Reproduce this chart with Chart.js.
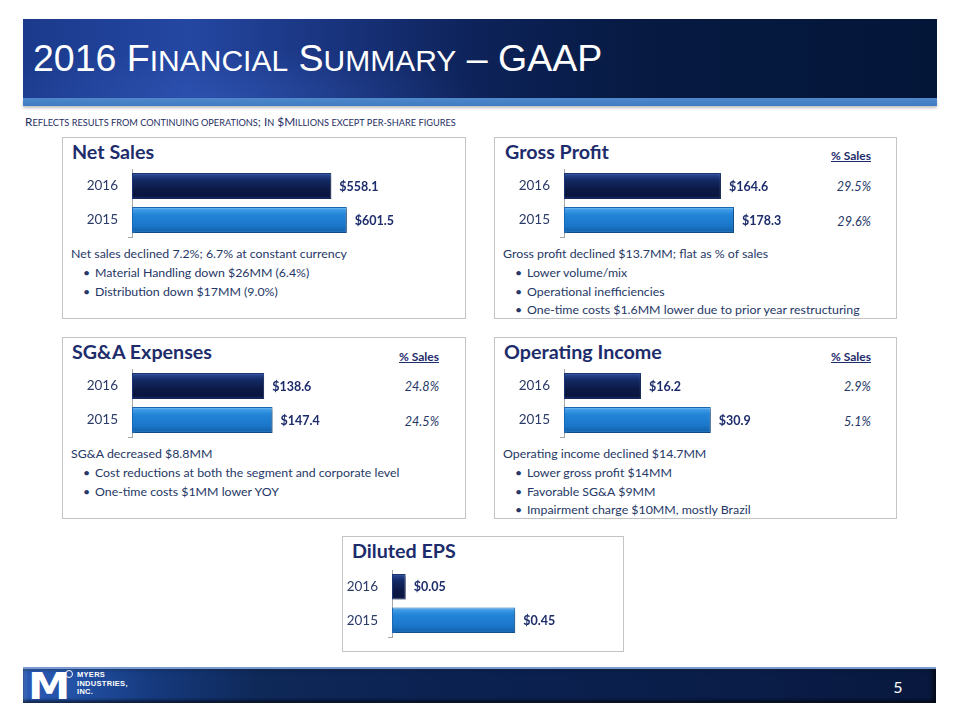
<!DOCTYPE html>
<html>
<head>
<meta charset="utf-8">
<script src="https://cdn.jsdelivr.net/npm/chart.js@4/dist/chart.umd.min.js"></script>
<style>
  html,body{margin:0;padding:0;background:#fff;}
  #slide{position:relative;width:960px;height:720px;overflow:hidden;background:#fff;font-family:Lato,"Open Sans",sans-serif;}
  .abs{position:absolute;}
  #banner{left:23px;top:19px;width:914px;height:79px;
    background:linear-gradient(to right,#1B3A8C 0%,#2447A2 18%,#1A3580 33%,#0D2258 50%,#061A42 68%,#041638 100%);}
  #bannerGlow{left:23px;top:19px;width:914px;height:79px;
    background:radial-gradient(ellipse 40% 90% at 22% 100%,rgba(60,100,200,0.35),rgba(0,0,0,0) 70%);}
  #strip{left:23px;top:98px;width:914px;height:8px;
    background:linear-gradient(to bottom,#5089CB,#3E7BC2);box-shadow:0 2px 3px rgba(0,0,0,0.25);}
  #title{left:33px;top:38px;color:#fff;font-family:"Liberation Sans",Arial,sans-serif;font-size:37.5px;line-height:40px;white-space:nowrap;}
  #title .sc{font-size:30px;}
  #subtitle{left:25px;top:114px;color:#1F2E63;font-size:11.8px;line-height:16px;white-space:nowrap;}
  #subtitle .sc{font-size:9.2px;}
  .panel{position:absolute;border:1px solid #C4C4C4;box-sizing:border-box;background:#fff;}
  .ptitle{position:absolute;color:#1D2C6B;font-weight:bold;font-size:19.7px;line-height:20px;white-space:nowrap;}
  .body{position:absolute;color:#253766;font-size:12.35px;line-height:18.8px;white-space:nowrap;}
  .body .b{position:relative;padding-left:24px;}
  .body .b:before{content:"\2022";position:absolute;left:12px;}
  .pcthead{position:absolute;color:#1D2C6B;font-weight:bold;font-size:12px;line-height:16px;text-decoration:underline;white-space:nowrap;text-align:right;width:80px;}
  .pct{position:absolute;color:#253766;font-style:italic;font-size:12.6px;line-height:18px;white-space:nowrap;text-align:right;width:80px;}
  canvas.c{position:absolute;}
  #footer{left:23px;top:667px;width:913px;height:36px;box-sizing:border-box;
    background:linear-gradient(to right,#2A5AB4 0%,#2250A4 6%,#163A7E 14%,#0E2858 26%,#0B2150 50%,#0A1D48 80%,#08183E 100%);
    border-top:2px solid #7A9BCF;box-shadow:inset 0 -3px 3px rgba(0,0,0,0.45), inset -4px 0 4px rgba(0,0,0,0.5), inset 3px 0 3px rgba(255,255,255,0.12);}
  #logoM{left:28px;top:669px;color:#fff;font-family:"DejaVu Sans","Liberation Sans",sans-serif;font-weight:bold;font-size:38px;line-height:34px;letter-spacing:-2px;transform:scaleX(1.12);transform-origin:left;}
  #logoO{left:65px;top:670px;width:6px;height:6px;border:1.5px solid #fff;border-radius:50%;}
  #logoTxt{left:77px;top:671px;color:#fff;font-family:"Liberation Sans",Arial,sans-serif;font-weight:bold;font-size:7.5px;line-height:8.5px;white-space:nowrap;letter-spacing:0.3px;}
  #pageNo{left:880px;top:677px;width:36px;text-align:center;color:#fff;font-size:16px;line-height:20px;}
</style>
</head>
<body>
<div id="slide">
  <div id="banner" class="abs"></div>
  <div id="bannerGlow" class="abs"></div>
  <div id="strip" class="abs"></div>
  <div id="title" class="abs">2016 F<span class="sc">INANCIAL</span> S<span class="sc">UMMARY</span> – GAAP</div>
  <div id="subtitle" class="abs">R<span class="sc">EFLECTS RESULTS FROM CONTINUING OPERATIONS</span>; I<span class="sc">N</span> $M<span class="sc">ILLIONS EXCEPT PER-SHARE FIGURES</span></div>

  <div class="panel" style="left:62px;top:137px;width:404px;height:182px;"></div>
  <div class="panel" style="left:494px;top:137px;width:403px;height:182px;"></div>
  <div class="panel" style="left:62px;top:337px;width:404px;height:182px;"></div>
  <div class="panel" style="left:494px;top:337px;width:403px;height:182px;"></div>
  <div class="panel" style="left:342px;top:536px;width:282px;height:116px;"></div>

  <div class="ptitle" style="left:72px;top:142px;">Net Sales</div>
  <div class="ptitle" style="left:505px;top:142px;">Gross Profit</div>
  <div class="ptitle" style="left:72px;top:342px;">SG&amp;A Expenses</div>
  <div class="ptitle" style="left:504px;top:342px;">Operating Income</div>
  <div class="ptitle" style="left:352px;top:541px;">Diluted EPS</div>

  <div class="pcthead" style="left:791px;top:148px;">% Sales</div>
  <div class="pcthead" style="left:359px;top:349px;">% Sales</div>
  <div class="pcthead" style="left:791px;top:349px;">% Sales</div>
  <div id="pctGP1" class="pct" style="left:791px;top:178px;"></div>
  <div id="pctGP2" class="pct" style="left:791px;top:213px;"></div>
  <div id="pctSG1" class="pct" style="left:359px;top:378px;"></div>
  <div id="pctSG2" class="pct" style="left:359px;top:413px;"></div>
  <div id="pctOI1" class="pct" style="left:791px;top:378px;"></div>
  <div id="pctOI2" class="pct" style="left:791px;top:413px;"></div>

  <div class="body" style="left:71px;top:245px;">
    <div>Net sales declined 7.2%; 6.7% at constant currency</div>
    <div class="b">Material Handling down $26MM (6.4%)</div>
    <div class="b">Distribution down $17MM (9.0%)</div>
  </div>
  <div class="body" style="left:503px;top:245px;">
    <div>Gross profit declined $13.7MM; flat as % of sales</div>
    <div class="b">Lower volume/mix</div>
    <div class="b">Operational inefficiencies</div>
    <div class="b">One-time costs $1.6MM lower due to prior year restructuring</div>
  </div>
  <div class="body" style="left:71px;top:445px;">
    <div>SG&amp;A decreased $8.8MM</div>
    <div class="b">Cost reductions at both the segment and corporate level</div>
    <div class="b">One-time costs $1MM lower YOY</div>
  </div>
  <div class="body" style="left:503px;top:445px;">
    <div>Operating income declined $14.7MM</div>
    <div class="b">Lower gross profit $14MM</div>
    <div class="b">Favorable SG&amp;A $9MM</div>
    <div class="b">Impairment charge $10MM, mostly Brazil</div>
  </div>

  <canvas id="cNS" class="c" width="404" height="78" style="left:62px;top:164px;"></canvas>
  <canvas id="cGP" class="c" width="403" height="78" style="left:494px;top:164px;"></canvas>
  <canvas id="cSG" class="c" width="404" height="78" style="left:62px;top:364px;"></canvas>
  <canvas id="cOI" class="c" width="403" height="78" style="left:494px;top:364px;"></canvas>
  <canvas id="cEPS" class="c" width="282" height="77" style="left:342px;top:565px;"></canvas>

  <div id="footer" class="abs"></div>
  <div id="logoM" class="abs">M</div>
  <div id="logoO" class="abs"></div>
  <div id="logoTxt" class="abs">MYERS<br>INDUSTRIES,<br>INC.</div>
  <div id="pageNo" class="abs">5</div>
</div>

<script>
// ---- data ----
const years = ['2016', '2015'];
const netSales = [558.1, 601.5];
const grossProfit = [164.6, 178.3];
const sgaExpenses = [138.6, 147.4];
const operatingIncome = [16.2, 30.9];
const dilutedEps = [0.05, 0.45];
const gpPctSales = ['29.5%', '29.6%'];
const sgaPctSales = ['24.8%', '24.5%'];
const oiPctSales = ['2.9%', '5.1%'];

document.getElementById('pctGP1').textContent = gpPctSales[0];
document.getElementById('pctGP2').textContent = gpPctSales[1];
document.getElementById('pctSG1').textContent = sgaPctSales[0];
document.getElementById('pctSG2').textContent = sgaPctSales[1];
document.getElementById('pctOI1').textContent = oiPctSales[0];
document.getElementById('pctOI2').textContent = oiPctSales[1];

function barFill(c) {
  const chart = c.chart;
  const dark = c.dataIndex === 0;
  const area = chart.chartArea;
  const ys = chart.scales && chart.scales.y;
  if (!area || !ys) return dark ? '#0D1B4A' : '#1C7BD0';
  const y = ys.getPixelForValue(c.dataIndex);
  const h = 26;
  const g = chart.ctx.createLinearGradient(0, y - h / 2, 0, y + h / 2);
  if (dark) {
    g.addColorStop(0, '#4B6BBA');
    g.addColorStop(0.09, '#26428C');
    g.addColorStop(0.25, '#142B68');
    g.addColorStop(0.6, '#0C1A48');
    g.addColorStop(0.9, '#0A163F');
    g.addColorStop(1, '#21397E');
  } else {
    g.addColorStop(0, '#8ECBF4');
    g.addColorStop(0.1, '#3F9CE6');
    g.addColorStop(0.3, '#2284D8');
    g.addColorStop(0.7, '#1B77CA');
    g.addColorStop(0.92, '#1464B1');
    g.addColorStop(1, '#3F8DD3');
  }
  return g;
}

const barDecor = {
  id: 'barDecor',
  beforeDatasetsDraw(chart) {
    const ctx = chart.ctx;
    ctx.save();
    ctx.shadowColor = 'rgba(0,0,0,0.35)';
    ctx.shadowBlur = 3;
    ctx.shadowOffsetX = 2;
    ctx.shadowOffsetY = 2;
  },
  afterDatasetsDraw(chart) {
    const ctx = chart.ctx;
    ctx.restore();
    const dec = chart.options.plugins.barDecor.decimals;
    const meta = chart.getDatasetMeta(0);
    const vals = chart.data.datasets[0].data;
    const a = chart.chartArea;
    ctx.save();
    // small stub at the foot of the category axis
    ctx.strokeStyle = '#A6A6A6';
    ctx.lineWidth = 1;
    ctx.beginPath();
    ctx.moveTo(a.left - 4, Math.round(a.bottom) + 0.5);
    ctx.lineTo(a.left + 0.5, Math.round(a.bottom) + 0.5);
    ctx.stroke();
    ctx.fillStyle = '#1D2C6B';
    ctx.font = 'bold 12.5px Lato';
    ctx.textAlign = 'left';
    ctx.textBaseline = 'middle';
    meta.data.forEach((bar, i) => {
      ctx.fillText('$' + vals[i].toFixed(dec), bar.x + 8, bar.y + 0.5);
    });
    ctx.restore();
  }
};

function makeBarChart(id, values, o) {
  return new Chart(document.getElementById(id), {
    type: 'bar',
    data: {
      labels: years,
      datasets: [{
        data: values,
        backgroundColor: barFill,
        borderColor: (c) => c.dataIndex === 0 ? '#1C3475' : '#1A68B4',
        borderWidth: 1,
        borderSkipped: false,
        barPercentage: 0.76,
        categoryPercentage: 1,
        clip: false
      }]
    },
    options: {
      indexAxis: 'y',
      responsive: false,
      animation: false,
      events: [],
      layout: { padding: { top: 5, bottom: 5, left: 0, right: o.padRight } },
      plugins: { legend: { display: false }, tooltip: { enabled: false }, barDecor: { decimals: o.decimals } },
      scales: {
        x: { display: false, min: 0, max: o.max },
        y: {
          grid: { display: false, drawTicks: false },
          border: { display: true, color: '#A6A6A6', width: 1 },
          ticks: { padding: 14, color: '#2B3A67', font: { family: 'Lato', size: 13.5 } },
          afterFit(s) { s.width = o.axisW; s.paddingTop = 0; s.paddingBottom = 0; }
        }
      }
    },
    plugins: [barDecor]
  });
}

makeBarChart('cNS', netSales, { max: 700, padRight: 84, axisW: 70, decimals: 1 });
makeBarChart('cGP', grossProfit, { max: 300, padRight: 47, axisW: 70, decimals: 1 });
makeBarChart('cSG', sgaExpenses, { max: 300, padRight: 48, axisW: 70, decimals: 1 });
makeBarChart('cOI', operatingIncome, { max: 60, padRight: 48, axisW: 70, decimals: 1 });
makeBarChart('cEPS', dilutedEps, { max: 0.8, padRight: 13, axisW: 50, decimals: 2 });
</script>
</body>
</html>
